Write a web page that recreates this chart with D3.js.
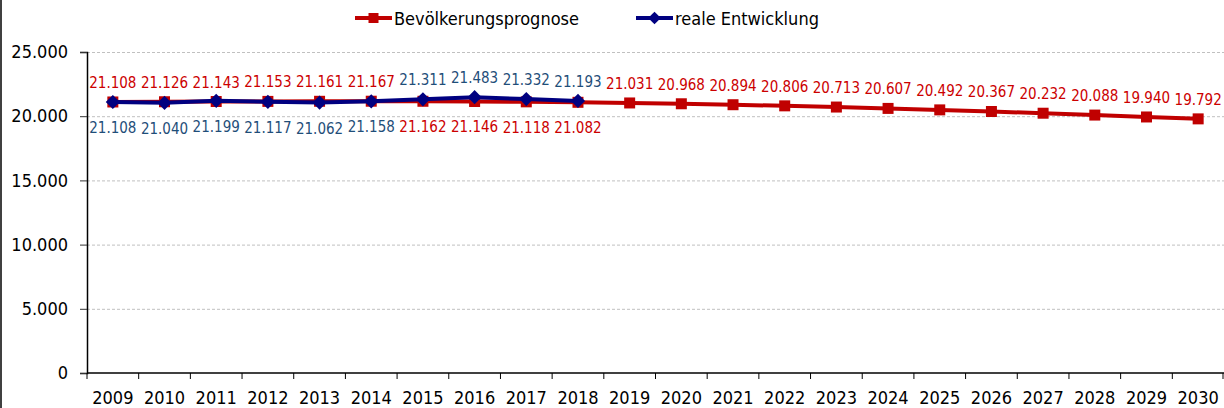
<!DOCTYPE html>
<meta charset="utf-8">
<style>
  body { margin: 0; background: white; }
  text { font-family: "DejaVu Sans Condensed", "DejaVu Sans", sans-serif; font-stretch: condensed; }
  .grid line { stroke: #c0c0c0; stroke-dasharray: 3,2; }
  .grid .domain { display: none; }
</style>
<body>
<svg width="1224" height="408"></svg>
<script src="https://d3js.org/d3.v7.min.js"></script>
<script>

// Werte in Tausend; pos = Lage der Beschriftung
var years = d3.range(2009, 2031);

var prognose = [21108, 21126, 21143, 21153, 21161, 21167, 21162, 21146, 21118, 21082,
  21031, 20968, 20894, 20806, 20713, 20607, 20492, 20367, 20232, 20088, 19940, 19792];

var real = [21108, 21040, 21199, 21117, 21062, 21158, 21311, 21483, 21332, 21193];

var series = [
  { name: "Bevölkerungsprognose", line: "#C00000", label: "#CC0000", marker: "square",
    data: prognose.map((v, i) => ({ year: years[i], value: v, pos: (years[i] >= 2015 && years[i] <= 2018) ? "below" : "above" })) },
  { name: "reale Entwicklung", line: "#000080", label: "#1F4E79", marker: "diamond",
    data: real.map((v, i) => ({ year: years[i], value: v, pos: (years[i] >= 2015) ? "above" : "below" })) }
];

var svg = d3.select("svg"),
    width = +svg.attr("width"),
    height = +svg.attr("height");

var mLeft = 87, mRight = 1224, mTop = 52, mBottom = 373;

var x = d3.scaleBand().domain(years).range([mLeft, mRight]);
var y = d3.scaleLinear().domain([0, 25000]).range([mBottom, mTop]);

var fmt = d3.formatLocale({ decimal: ",", thousands: ".", grouping: [3] }).format(",");

// square or diamond (a turned square)
function marker(sel, type, side) {
  sel.attr("d", d3.symbol().type(d3.symbolSquare).size(side * side));
  if (type === "diamond") sel.attr("transform", function() { return d3.select(this).attr("transform") + " rotate(45)"; });
}

// border on the left
svg.append("line")
  .attr("x1", 1).attr("x2", 1).attr("y1", 0).attr("y2", height)
  .attr("stroke", "#000").attr("stroke-width", 1.5);

// gridlines
svg.append("g")
  .attr("class", "grid")
  .attr("transform", "translate(" + mLeft + ",0)")
  .call(d3.axisLeft(y).tickValues([5000, 10000, 15000, 20000, 25000]).tickSize(-(mRight - mLeft)).tickFormat(""));

// y axis
var yAxis = svg.append("g")
  .attr("transform", "translate(" + mLeft + ",0)")
  .call(d3.axisLeft(y).tickValues(d3.range(0, 25001, 5000)).tickSize(7).tickPadding(12).tickFormat(d => fmt(d)));
yAxis.selectAll("text").style("font-size", "18px").attr("fill", "#000");
yAxis.selectAll("line").attr("stroke", "#333");
yAxis.select(".domain").attr("stroke", "#000").attr("stroke-width", 1.5);

// x axis with ticks between categories
var xAxis = svg.append("g")
  .attr("transform", "translate(0," + mBottom + ")");
xAxis.append("line")
  .attr("x1", mLeft).attr("x2", mRight).attr("stroke", "#000").attr("stroke-width", 1.5);
xAxis.selectAll(".tk")
  .data(years.concat([2031]))
  .enter().append("line")
  .attr("x1", d => d === 2031 ? mRight - 1 : x(d))
  .attr("x2", d => d === 2031 ? mRight - 1 : x(d))
  .attr("y1", 0).attr("y2", 6)
  .attr("stroke", "#000");
xAxis.selectAll(".yr")
  .data(years)
  .enter().append("text")
  .attr("x", d => x(d) + x.bandwidth() / 2)
  .attr("y", 31)
  .attr("text-anchor", "middle")
  .style("font-size", "18px")
  .text(d => d);

var line = d3.line()
  .x(d => x(d.year) + x.bandwidth() / 2)
  .y(d => y(d.value));

series.forEach(function(s) {
  var g = svg.append("g");
  g.append("path")
    .datum(s.data)
    .attr("fill", "none")
    .attr("stroke", s.line)
    .attr("stroke-width", 4)
    .attr("d", line);

  g.selectAll(".m")
    .data(s.data)
    .enter().append("path")
    .attr("transform", d => "translate(" + (x(d.year) + x.bandwidth() / 2) + "," + y(d.value) + ")")
    .attr("fill", s.line)
    .call(marker, s.marker, s.marker === "square" ? 11 : 10);
});

// labels on top
series.forEach(function(s) {
  svg.append("g").selectAll("text")
    .data(s.data)
    .enter().append("text")
    .attr("x", d => x(d.year) + x.bandwidth() / 2)
    .attr("y", d => y(d.value) + (d.pos === "above" ? -14 : 31))
    .attr("text-anchor", "middle")
    .attr("fill", s.label)
    .style("font-size", "15px")
    .text(d => fmt(d.value));
});

// legend
var legend = svg.append("g");
var items = [
  { s: series[0], x: 355 },
  { s: series[1], x: 636 }
];
items.forEach(function(it) {
  var lg = legend.append("g").attr("transform", "translate(" + it.x + ",18)");
  lg.append("line").attr("x1", 0).attr("x2", 37).attr("stroke", it.s.line).attr("stroke-width", 4);
  lg.append("path")
    .attr("transform", "translate(18.5,0)")
    .attr("fill", it.s.line)
    .call(marker, it.s.marker, it.s.marker === "square" ? 10 : 9);
  lg.append("text")
    .attr("x", 39).attr("y", 6.5)
    .style("font-size", "18px")
    .text(it.s.name);
});

</script>
</body>
